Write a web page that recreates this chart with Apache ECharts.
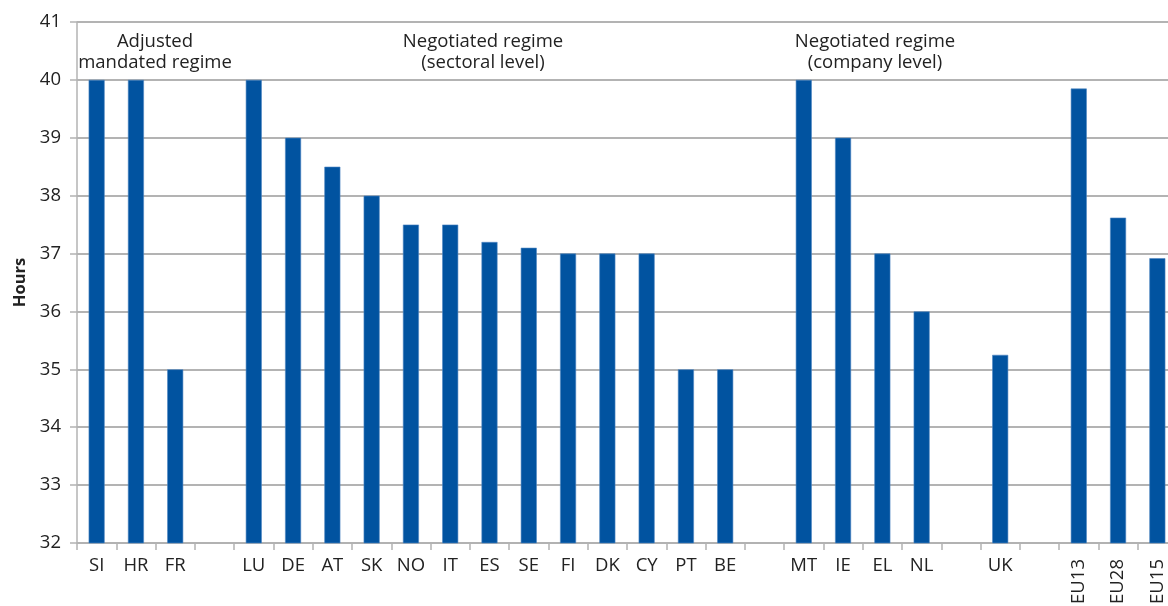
<!DOCTYPE html>
<html>
<head>
<meta charset="utf-8">
<script src="https://cdn.jsdelivr.net/npm/echarts@6/dist/echarts.min.js"></script>
<style>
  html, body { margin: 0; padding: 0; background: #fff; }
  #chart { width: 1168px; height: 606px; }
</style>
</head>
<body>
<div id="chart"></div>
<script>
// countries, blank slots separate the regime groups
const categories = ['SI', 'HR', 'FR', '', 'LU', 'DE', 'AT', 'SK', 'NO', 'IT', 'ES', 'SE', 'FI', 'DK', 'CY', 'PT', 'BE', ' ',
  'MT', 'IE', 'EL', 'NL', '  ', 'UK', '   ', 'EU13', 'EU28', 'EU15']
const hours = [40, 40, 35, null, 40, 39, 38.5, 38, 37.5, 37.5, 37.2, 37.1, 37, 37, 37, 35, 35, null,
  40, 39, 37, 36, null, 35.25, null, 39.85, 37.62, 36.92]
const rotatedLabels = ['EU13', 'EU28', 'EU15']
const groupLabels = [
  { text: 'Adjusted\nmandated regime', x: 155 },
  { text: 'Negotiated regime\n(sectoral level)', x: 483 },
  { text: 'Negotiated regime\n(company level)', x: 875 }
]

const font = "'Open Sans', 'Noto Sans', sans-serif"
const gridColor = '#b3b3b3'
const labelColor = '#222'

let myChart = echarts.init(document.getElementById('chart'))
let option = {
  animation: false,
  textStyle: { fontFamily: font },
  grid: {
    left: 77,
    top: 22,
    width: 1100,
    bottom: 63,
    containLabel: false,
    outerBoundsMode: 'none'
  },
  // group titles above the bars
  graphic: groupLabels.map(g => ({
    type: 'text',
    x: g.x,
    y: 31,
    style: {
      text: g.text,
      textAlign: 'center',
      fontSize: 18.5,
      lineHeight: 21,
      fontFamily: font,
      fill: labelColor
    }
  })),
  xAxis: [
    {
      type: 'category',
      data: categories,
      axisLine: { lineStyle: { color: gridColor, width: 1.5 } },
      axisTick: { show: true, length: 7, lineStyle: { color: gridColor, width: 1.5 } },
      axisLabel: {
        interval: 0,
        margin: 13,
        fontSize: 18.5,
        color: labelColor,
        fontFamily: font,
        formatter: v => rotatedLabels.includes(v) ? '' : v
      }
    },
    {
      // second axis only for the vertical EU labels
      type: 'category',
      data: categories,
      position: 'bottom',
      axisLine: { show: false },
      axisTick: { show: false },
      axisLabel: {
        interval: 0,
        rotate: 90,
        margin: 16,
        fontSize: 18.5,
        color: labelColor,
        fontFamily: font,
        formatter: v => rotatedLabels.includes(v) ? v : ''
      }
    }
  ],
  yAxis: {
    type: 'value',
    min: 32,
    max: 41,
    interval: 1,
    name: 'Hours',
    nameLocation: 'middle',
    nameGap: 48,
    nameRotate: 90,
    nameTextStyle: { fontSize: 16.5, fontWeight: 'bold', color: labelColor, fontFamily: font },
    axisLine: { show: true, lineStyle: { color: gridColor, width: 1.5 } },
    axisTick: { show: true, length: 7, lineStyle: { color: gridColor, width: 1.5 } },
    axisLabel: { fontSize: 18.5, color: labelColor, margin: 16, fontFamily: font },
    splitLine: { lineStyle: { color: gridColor, width: 2 } }
  },
  series: [
    {
      name: 'Hours',
      type: 'bar',
      barWidth: 16,
      itemStyle: { color: '#0153a0', borderColor: '#4f86c2', borderWidth: 0.6 },
      data: hours
    }
  ]
}
myChart.setOption(option)
</script>
</body>
</html>
